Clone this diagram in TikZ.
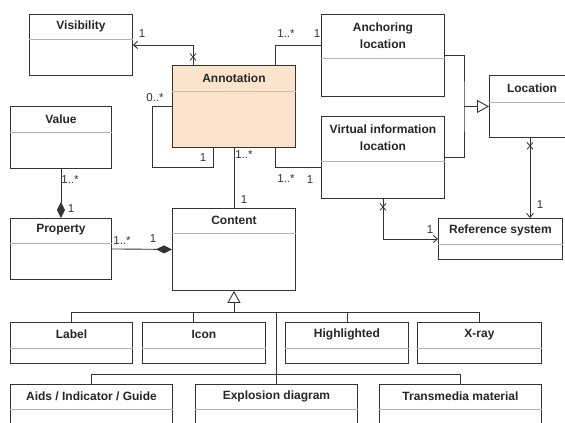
\documentclass[tikz,border=0pt]{standalone}
\usepackage{fontspec}
\setmainfont{Liberation Sans}
\usetikzlibrary{arrows.meta,calc}
\definecolor{umlline}{HTML}{333333}
\definecolor{umlsep}{HTML}{B4B4B4}
\definecolor{annofill}{HTML}{FCE3CC}
\definecolor{annosep}{HTML}{D2B8A2}
\begin{document}
\begin{tikzpicture}[x=1pt,y=-1pt,
  box/.style={draw=umlline, line width=.9pt, fill=white, inner sep=0pt, anchor=north west},
  title/.style={font=\bfseries\fontsize{12}{17}\selectfont, align=center, text=black!85},
  sepline/.style={umlsep, line width=.8pt},
  link/.style={umlline, line width=.9pt},
  mult/.style={font=\fontsize{11.5}{13}\selectfont, text=umlline, inner sep=0pt},
  nav/.style={link, -{Straight Barb[length=4pt,width=7pt]}},
  comp/.style={link, -{Diamond[length=16pt,width=8pt]}},
  inherit/.style={link, -{Triangle[open, fill=white, length=12pt, width=13pt]}},
  xmark/.pic={\draw[umlline, line width=.8pt] (-3,-3.5) -- (3,3.5) (-3,3.5) -- (3,-3.5);}]
\useasboundingbox (0,0) rectangle (565,423);

% classes
\node[box, minimum width=103pt, minimum height=61pt] (vis) at (29,14) {};
\draw[sepline] ($(vis.north west)+(0,25)$) -- ($(vis.north east)+(0,25)$);
\node[title] (tvis) at ($(vis.north)+(0,12.5)$) {Visibility};

\node[box, fill=annofill, minimum width=123pt, minimum height=82pt] (annot) at (172,65) {};
\draw[annosep, line width=.8pt] ($(annot.north west)+(0,26)$) -- ($(annot.north east)+(0,26)$);
\node[title] (tannot) at ($(annot.north)+(0,13)$) {Annotation};

\node[box, minimum width=101pt, minimum height=62pt] (val) at (10,106) {};
\draw[sepline] ($(val.north west)+(0,26)$) -- ($(val.north east)+(0,26)$);
\node[title] (tval) at ($(val.north)+(0,13)$) {Value};

\node[box, minimum width=123pt, minimum height=82pt] (anch) at (321,14) {};
\draw[sepline] ($(anch.north west)+(0,44)$) -- ($(anch.north east)+(0,44)$);
\node[title] (tanch) at ($(anch.north)+(0,21.5)$) {Anchoring\\location};

\node[box, minimum width=123pt, minimum height=82pt] (virt) at (321,116) {};
\draw[sepline] ($(virt.north west)+(0,45)$) -- ($(virt.north east)+(0,45)$);
\node[title] (tvirt) at ($(virt.north)+(0,22)$) {Virtual information\\location};

\node[box, minimum width=90pt, minimum height=62pt] (loc) at (489,75) {};
\draw[sepline] ($(loc.north west)+(0,27)$) -- ($(loc.north east)+(0,27)$);
\node[title] (tloc) at ($(loc.north west)+(43,13)$) {Location};

\node[box, minimum width=124pt, minimum height=41pt] (ref) at (438,218) {};
\draw[sepline] ($(ref.north west)+(0,26)$) -- ($(ref.north east)+(0,26)$);
\node[title] (tref) at ($(ref.north)+(0,12.5)$) {Reference system};

\node[box, minimum width=123pt, minimum height=82pt] (content) at (172,208) {};
\draw[sepline] ($(content.north west)+(0,25)$) -- ($(content.north east)+(0,25)$);
\node[title] (tcontent) at ($(content.north)+(0,12)$) {Content};

\node[box, minimum width=101pt, minimum height=61pt] (prop) at (10,218) {};
\draw[sepline] ($(prop.north west)+(0,25)$) -- ($(prop.north east)+(0,25)$);
\node[title] (tprop) at ($(prop.north)+(0,12)$) {Property};

\node[box, minimum width=122pt, minimum height=41pt] (lab) at (10,322) {};
\draw[sepline] ($(lab.north west)+(0,26)$) -- ($(lab.north east)+(0,26)$);
\node[title] (tlab) at ($(lab.north)+(0,12.5)$) {Label};

\node[box, minimum width=123pt, minimum height=41pt] (icon) at (142,322) {};
\draw[sepline] ($(icon.north west)+(0,26)$) -- ($(icon.north east)+(0,26)$);
\node[title] (ticon) at ($(icon.north)+(0,12.5)$) {Icon};

\node[box, minimum width=123pt, minimum height=41pt] (high) at (285,322) {};
\draw[sepline] ($(high.north west)+(0,26)$) -- ($(high.north east)+(0,26)$);
\node[title] (thigh) at ($(high.north)+(0,12.5)$) {Highlighted};

\node[box, minimum width=124pt, minimum height=41pt] (xray) at (417,322) {};
\draw[sepline] ($(xray.north west)+(0,26)$) -- ($(xray.north east)+(0,26)$);
\node[title] (txray) at ($(xray.north)+(0,12.5)$) {X-ray};

\node[box, minimum width=162pt, minimum height=60pt] (aids) at (10,384) {};
\draw[sepline] ($(aids.north west)+(0,25)$) -- ($(aids.north east)+(0,25)$);
\node[title] (taids) at ($(aids.north)+(0,12)$) {Aids / Indicator / Guide};

\node[box, minimum width=162pt, minimum height=60pt] (expl) at (195,384) {};
\draw[sepline] ($(expl.north west)+(0,25)$) -- ($(expl.north east)+(0,25)$);
\node[title] (texpl) at ($(expl.north)+(0,12)$) {Explosion diagram};

\node[box, minimum width=162pt, minimum height=60pt] (trans) at (379,384) {};
\draw[sepline] ($(trans.north west)+(0,25)$) -- ($(trans.north east)+(0,25)$);
\node[title] (ttrans) at ($(trans.north)+(0,12)$) {Transmedia material};

% associations
\draw[nav] ($(annot.north west)+(21,0)$) |- (vis.east);
\pic at ($(annot.north west)+(21,-8)$) {xmark};
\draw[link] ($(annot.north east)+(-20,0)$) |- ($(anch.north west)+(0,31)$);
\draw[link] ($(annot.south east)+(-20,0)$) |- ($(virt.north west)+(0,51)$);
\draw[link] (annot.west) -- ++(-20,0) -- ++(0,61) -| ($(annot.south west)+(41,0)$);
\draw[link] (annot.south) -- (content.north);
\draw[comp] (val.south) -- (prop.north);
\draw[comp] (prop.east) -- (content.west);

\path (loc.west) ++(-25,0) coordinate (gen);
\draw[link] (anch.east) -| (gen) |- (virt.east);
\draw[inherit] (gen) -- (loc.west);

\coordinate (locx) at ($(loc.south west)+(41,0)$);
\draw[nav] (locx) -- (locx |- ref.north);
\pic at ($(locx)+(0,8)$) {xmark};
\draw[nav] (virt.south) |- (ref.west);
\pic at ($(virt.south)+(0,8)$) {xmark};

% content subclasses
\coordinate (tree) at ($(content.south)+(0,22)$);
\draw[inherit] (tree) -- (content.south);
\draw[link] (lab.north) |- (tree) -| (xray.north);
\draw[link] ($(icon.north west)+(51,0)$) -- ++(0,-10);
\draw[link] (high.north) -- ++(0,-10);
\draw[link] (expl.north |- tree) -- (expl.north);
\draw[link] (aids.north) -- ++(0,-10) -| (trans.north);

% multiplicities
\node[mult] (m1) at (142,34) {1};
\node[mult] (m2) at (286,34) {1..*};
\node[mult] (m3) at (317,34) {1};
\node[mult] (m4) at (155,98) {0..*};
\node[mult] (m5) at (203,158) {1};
\node[mult] (m6) at (244,155) {1..*};
\node[mult] (m7) at (244,200) {1};
\node[mult] (m8) at (286,179) {1..*};
\node[mult] (m9) at (310,180) {1};
\node[mult] (m10) at (70,180) {1..*};
\node[mult] (m11) at (71,209) {1};
\node[mult] (m12) at (122,241) {1..*};
\node[mult] (m13) at (153,239) {1};
\node[mult] (m14) at (540,205) {1};
\node[mult] (m15) at (430,230) {1};
\end{tikzpicture}
\end{document}
